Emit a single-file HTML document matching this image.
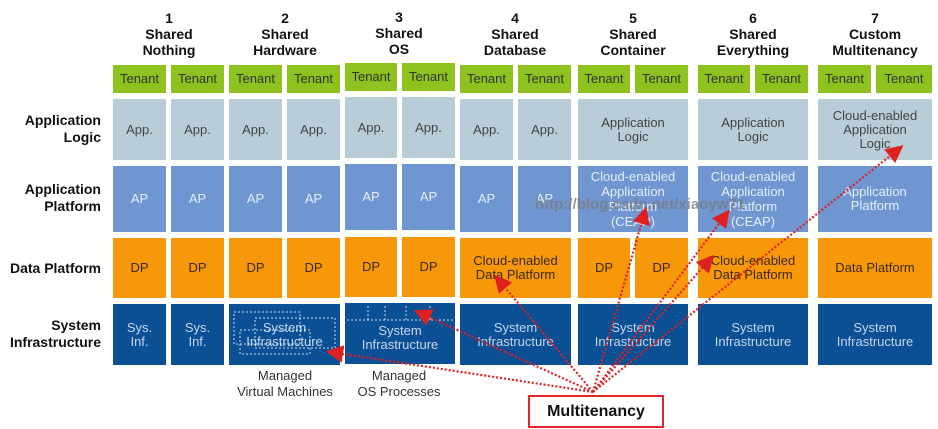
<!DOCTYPE html>
<html><head><meta charset="utf-8"><style>
body{margin:0;width:938px;height:429px;background:#fff;position:relative;overflow:hidden;font-family:"Liberation Sans",sans-serif}
.b{position:absolute;display:flex;align-items:center;justify-content:center;text-align:center;font-size:13px;line-height:14px}
.t{background:#8dc21f;color:#333;font-size:13px}
.a{background:#b8cdd8;color:#444}
.p{background:#6f96d0;color:#e6eef9}
.d{background:#f7980a;color:#3a2a10}
.s{background:#0b4f95;color:#c8d6ea}
.h{position:absolute;text-align:center;font-weight:bold;font-size:14px;line-height:16px;color:#111}
.l{position:absolute;text-align:right;font-weight:bold;font-size:14px;line-height:17px;color:#111;width:100px}
.m{position:absolute;text-align:center;font-size:13px;line-height:16px;color:#333}
</style></head><body>
<div class="h" style="left:110px;top:10px;width:118px">1<br>Shared<br>Nothing</div>
<div class="h" style="left:226px;top:10px;width:118px">2<br>Shared<br>Hardware</div>
<div class="h" style="left:340px;top:9px;width:118px">3<br>Shared<br>OS</div>
<div class="h" style="left:456px;top:10px;width:118px">4<br>Shared<br>Database</div>
<div class="h" style="left:574px;top:10px;width:118px">5<br>Shared<br>Container</div>
<div class="h" style="left:694px;top:10px;width:118px">6<br>Shared<br>Everything</div>
<div class="h" style="left:816px;top:10px;width:118px">7<br>Custom<br>Multitenancy</div>

<div class="l" style="left:1px;top:112px">Application<br>Logic</div>
<div class="l" style="left:1px;top:181px">Application<br>Platform</div>
<div class="l" style="left:1px;top:260px">Data Platform</div>
<div class="l" style="left:1px;top:317px">System<br>Infrastructure</div>

<!-- col pairs -->
<div class="b t" style="left:113px;top:65px;width:53px;height:28px">Tenant</div>
<div class="b t" style="left:171px;top:65px;width:53px;height:28px">Tenant</div>
<div class="b t" style="left:229px;top:65px;width:53px;height:28px">Tenant</div>
<div class="b t" style="left:287px;top:65px;width:53px;height:28px">Tenant</div>
<div class="b t" style="left:345px;top:63px;width:52px;height:28px">Tenant</div>
<div class="b t" style="left:402px;top:63px;width:53px;height:28px">Tenant</div>
<div class="b t" style="left:460px;top:65px;width:53px;height:28px">Tenant</div>
<div class="b t" style="left:518px;top:65px;width:53px;height:28px">Tenant</div>
<div class="b t" style="left:578px;top:65px;width:52px;height:28px">Tenant</div>
<div class="b t" style="left:635px;top:65px;width:53px;height:28px">Tenant</div>
<div class="b t" style="left:698px;top:65px;width:52px;height:28px">Tenant</div>
<div class="b t" style="left:755px;top:65px;width:53px;height:28px">Tenant</div>
<div class="b t" style="left:818px;top:65px;width:53px;height:28px">Tenant</div>
<div class="b t" style="left:876px;top:65px;width:56px;height:28px">Tenant</div>

<div class="b a" style="left:113px;top:99px;width:53px;height:61px">App.</div>
<div class="b a" style="left:171px;top:99px;width:53px;height:61px">App.</div>
<div class="b a" style="left:229px;top:99px;width:53px;height:61px">App.</div>
<div class="b a" style="left:287px;top:99px;width:53px;height:61px">App.</div>
<div class="b a" style="left:345px;top:97px;width:52px;height:61px">App.</div>
<div class="b a" style="left:402px;top:97px;width:53px;height:61px">App.</div>
<div class="b a" style="left:460px;top:99px;width:53px;height:61px">App.</div>
<div class="b a" style="left:518px;top:99px;width:53px;height:61px">App.</div>
<div class="b a" style="left:578px;top:99px;width:110px;height:61px">Application<br>Logic</div>
<div class="b a" style="left:698px;top:99px;width:110px;height:61px">Application<br>Logic</div>
<div class="b a" style="left:818px;top:99px;width:114px;height:61px;align-items:flex-start;padding-top:10px;box-sizing:border-box">Cloud-enabled<br>Application<br>Logic</div>

<div class="b p" style="left:113px;top:166px;width:53px;height:66px">AP</div>
<div class="b p" style="left:171px;top:166px;width:53px;height:66px">AP</div>
<div class="b p" style="left:229px;top:166px;width:53px;height:66px">AP</div>
<div class="b p" style="left:287px;top:166px;width:53px;height:66px">AP</div>
<div class="b p" style="left:345px;top:164px;width:52px;height:66px">AP</div>
<div class="b p" style="left:402px;top:164px;width:53px;height:66px">AP</div>
<div class="b p" style="left:460px;top:166px;width:53px;height:66px">AP</div>
<div class="b p" style="left:518px;top:166px;width:53px;height:66px">AP</div>
<div class="b p" style="left:578px;top:166px;width:110px;height:66px;line-height:15px">Cloud-enabled<br>Application<br>Platform<br>(CEAP)</div>
<div class="b p" style="left:698px;top:166px;width:110px;height:66px;line-height:15px">Cloud-enabled<br>Application<br>Platform<br>(CEAP)</div>
<div class="b p" style="left:818px;top:166px;width:114px;height:66px">Application<br>Platform</div>

<div class="b d" style="left:113px;top:238px;width:53px;height:60px">DP</div>
<div class="b d" style="left:171px;top:238px;width:53px;height:60px">DP</div>
<div class="b d" style="left:229px;top:238px;width:53px;height:60px">DP</div>
<div class="b d" style="left:287px;top:238px;width:53px;height:60px">DP</div>
<div class="b d" style="left:345px;top:237px;width:52px;height:60px">DP</div>
<div class="b d" style="left:402px;top:237px;width:53px;height:60px">DP</div>
<div class="b d" style="left:460px;top:238px;width:111px;height:60px">Cloud-enabled<br>Data Platform</div>
<div class="b d" style="left:578px;top:238px;width:52px;height:60px">DP</div>
<div class="b d" style="left:635px;top:238px;width:53px;height:60px">DP</div>
<div class="b d" style="left:698px;top:238px;width:110px;height:60px">Cloud-enabled<br>Data Platform</div>
<div class="b d" style="left:818px;top:238px;width:114px;height:60px">Data Platform</div>

<div class="b s" style="left:113px;top:304px;width:53px;height:61px">Sys.<br>Inf.</div>
<div class="b s" style="left:171px;top:304px;width:53px;height:61px">Sys.<br>Inf.</div>
<div class="b s" style="left:229px;top:304px;width:111px;height:61px">System<br>Infrastructure</div>
<div class="b s" style="left:345px;top:303px;width:110px;height:61px;padding-top:8px;box-sizing:border-box">System<br>Infrastructure</div>
<div class="b s" style="left:460px;top:304px;width:111px;height:61px">System<br>Infrastructure</div>
<div class="b s" style="left:578px;top:304px;width:110px;height:61px">System<br>Infrastructure</div>
<div class="b s" style="left:698px;top:304px;width:110px;height:61px">System<br>Infrastructure</div>
<div class="b s" style="left:818px;top:304px;width:114px;height:61px">System<br>Infrastructure</div>

<div class="m" style="left:226px;top:368px;width:118px">Managed<br>Virtual Machines</div>
<div class="m" style="left:340px;top:368px;width:118px">Managed<br>OS Processes</div>

<div style="position:absolute;left:528px;top:395px;width:132px;height:29px;border:2px solid #e0282c;display:flex;align-items:center;justify-content:center;font-weight:bold;font-size:16px;color:#111">Multitenancy</div>

<div style="position:absolute;left:535px;top:196px;font-weight:bold;font-size:15px;color:rgba(120,120,120,0.75)">http://blog.csdn.net/xiaoyw71</div>

<svg width="938" height="429" style="position:absolute;left:0;top:0">
<defs><marker id="ar" markerWidth="8" markerHeight="8" refX="6" refY="4" orient="auto"><path d="M0,0 L8,4 L0,8 z" fill="#e02020"/></marker></defs>
<g fill="none" stroke="#fff" stroke-width="1" stroke-dasharray="2,2" opacity="0.8">
<rect x="234" y="312" width="66" height="32"/><rect x="255" y="318" width="80" height="30"/><rect x="240" y="330" width="70" height="24"/>
<path d="M347 320 H453 M368 306 V320 M385 306 V320 M406 306 V320 M430 306 V320"/>
</g>
<g stroke="#e02020" stroke-width="2.2" stroke-dasharray="2,2" fill="none" marker-end="url(#ar)">
<line x1="593" y1="392" x2="330" y2="352"/>
<line x1="593" y1="392" x2="418" y2="312"/>
<line x1="593" y1="392" x2="497" y2="278"/>
<line x1="593" y1="392" x2="645" y2="211"/>
<line x1="593" y1="392" x2="727" y2="213"/>
<line x1="593" y1="392" x2="711" y2="258"/>
<line x1="593" y1="392" x2="900" y2="148"/>
</g>
</svg>
</body></html>
